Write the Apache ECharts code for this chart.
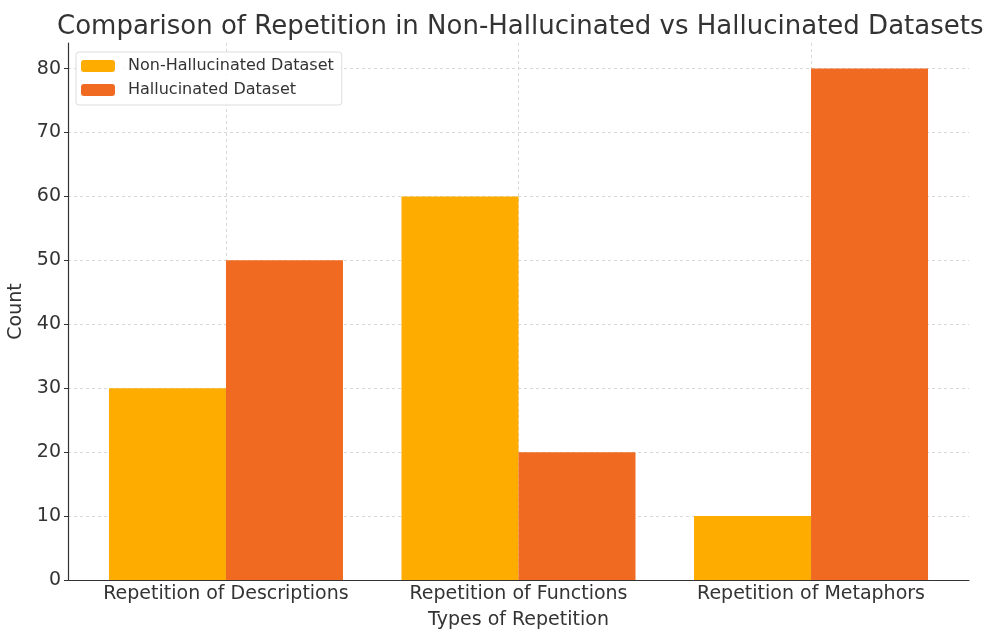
<!DOCTYPE html>
<html>
<head>
<meta charset="utf-8">
<script src="https://cdn.jsdelivr.net/npm/echarts@6/dist/echarts.min.js"></script>
<style>
  html, body { margin: 0; padding: 0; background: #fff; }
  #chart { width: 983px; height: 632px; }
</style>
</head>
<body>
<div id="chart"></div>
<script>
// Repetition counts per category, one array per dataset
const categories = ['Repetition of Descriptions', 'Repetition of Functions', 'Repetition of Metaphors'];
const nonHallucinated = [30, 60, 10];
const hallucinated = [50, 20, 80];
const yTicks = [0, 10, 20, 30, 40, 50, 60, 70, 80];

const FONT = 'DejaVu Sans';
const TEXT = '#333333';
const positions = categories.map((_, i) => i);

const chart = echarts.init(document.getElementById('chart'), null, { renderer: 'canvas' });

chart.setOption({
  animation: false,
  backgroundColor: '#ffffff',
  title: {
    text: 'Comparison of Repetition in Non-Hallucinated vs Hallucinated Datasets',
    left: 57, top: 14, padding: 0,
    textStyle: { fontFamily: FONT, fontSize: 26, fontWeight: 'normal', color: TEXT }
  },
  legend: {
    left: 76, top: 52, orient: 'vertical',
    itemWidth: 34, itemHeight: 12, itemGap: 8,
    padding: [6, 8, 7, 5],
    borderColor: '#dddddd', borderWidth: 1, borderRadius: 3,
    backgroundColor: 'rgba(255,255,255,0.85)',
    textStyle: { fontFamily: FONT, fontSize: 16, color: TEXT, padding: [0, 0, 0, 8] },
    itemStyle: { borderWidth: 0 },
    data: ['Non-Hallucinated Dataset', 'Hallucinated Dataset']
  },
  grid: { left: 68, right: 14, top: 43, bottom: 52, containLabel: false, outerBoundsMode: 'none' },
  xAxis: {
    type: 'value', min: -0.54, max: 2.54,
    name: 'Types of Repetition', nameLocation: 'middle', nameGap: 31,
    nameTextStyle: { fontFamily: FONT, fontSize: 19, color: TEXT },
    axisLine: { show: true, onZero: false, lineStyle: { color: '#333333', width: 1.2 } },
    axisTick: { show: false, customValues: positions },
    axisLabel: {
      customValues: positions, margin: 5,
      fontFamily: FONT, fontSize: 19, color: TEXT,
      formatter: v => categories[Math.round(v)] || ''
    },
    splitLine: { show: true, lineStyle: { color: '#d8d8d8', type: [3, 3], width: 1 } }
  },
  yAxis: {
    type: 'value', min: 0, max: 84, interval: 10,
    name: 'Count', nameLocation: 'middle', nameGap: 33, nameRotate: 90,
    nameTextStyle: { fontFamily: FONT, fontSize: 19, color: TEXT },
    axisLine: { show: true, onZero: false, lineStyle: { color: '#333333', width: 1.2 } },
    axisTick: { show: true, length: 4, inside: false, customValues: yTicks, lineStyle: { color: '#333333' } },
    axisLabel: {
      customValues: yTicks, margin: 7,
      fontFamily: FONT, fontSize: 19, color: TEXT
    },
    splitLine: { show: true, lineStyle: { color: '#d8d8d8', type: [3, 3], width: 1 } }
  },
  series: [
    {
      name: 'Non-Hallucinated Dataset', type: 'bar',
      data: nonHallucinated.map((v, i) => [positions[i], v]),
      barWidth: 117, barGap: '0%',
      itemStyle: { color: '#FEAC00' }
    },
    {
      name: 'Hallucinated Dataset', type: 'bar',
      data: hallucinated.map((v, i) => [positions[i], v]),
      barWidth: 117, barGap: '0%',
      itemStyle: { color: '#F06A22' }
    }
  ]
});
</script>
</body>
</html>
